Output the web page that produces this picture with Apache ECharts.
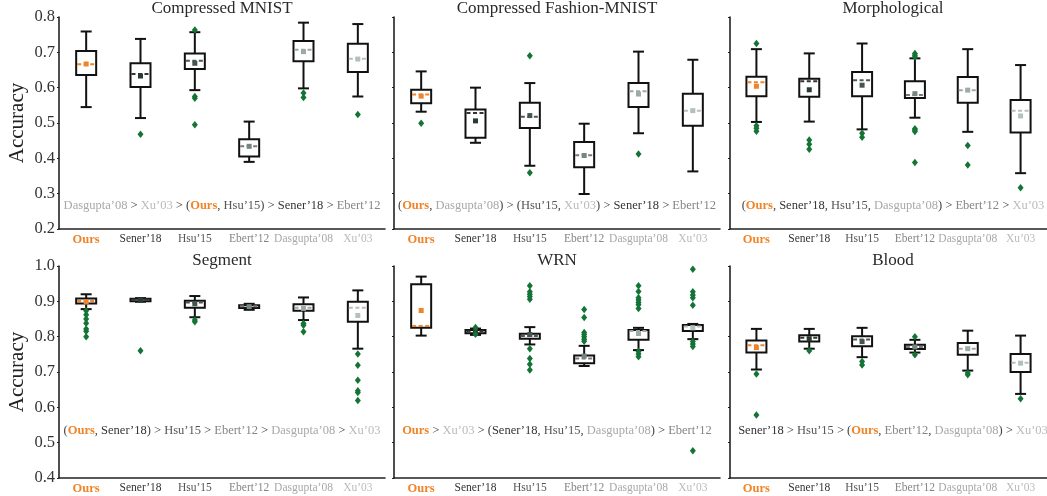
<!DOCTYPE html>
<html>
<head>
<meta charset="utf-8">
<script src="https://cdn.jsdelivr.net/npm/echarts@6/dist/echarts.min.js"></script>
<style>
  html, body { margin: 0; padding: 0; background: #fff; }
  #chart { width: 1047px; height: 496px; }
</style>
</head>
<body>
<div id="chart"></div>
<script>
// Methods compared in every panel (x categories)
const methods = ['Ours', 'Sener’18', 'Hsu’15', 'Ebert’12', 'Dasgupta’08', 'Xu’03'];

// Panel titles
const panelTitles = ['Compressed MNIST', 'Compressed Fashion-MNIST', 'Morphological', 'Segment', 'WRN', 'Blood'];

// y tick ranges per row
const rowTicks = [[0.2, 0.8], [0.4, 1.0]];

// Box statistics per method: [lower whisker, Q1, median, Q3, upper whisker]
const mnistBoxes = [
  [0.545, 0.636, 0.666, 0.704, 0.759],
  [0.514, 0.602, 0.639, 0.669, 0.738],
  [0.593, 0.653, 0.676, 0.697, 0.757],
  [0.390, 0.405, 0.434, 0.454, 0.504],
  [0.598, 0.675, 0.707, 0.732, 0.784],
  [0.575, 0.644, 0.682, 0.724, 0.780]
];
const mnistMeans = [0.667, 0.633, 0.669, 0.434, 0.702, 0.681];
const mnistOutliers = [[], [0.468], [0.763, 0.575, 0.570, 0.495], [], [0.585, 0.572], [0.524]];

const fashionBoxes = [
  [0.532, 0.556, 0.581, 0.594, 0.646],
  [0.444, 0.458, 0.528, 0.538, 0.600],
  [0.379, 0.486, 0.518, 0.557, 0.613],
  [0.299, 0.375, 0.409, 0.446, 0.498],
  [0.471, 0.545, 0.590, 0.613, 0.702],
  [0.363, 0.492, 0.535, 0.583, 0.679]
];
const fashionMeans = [0.576, 0.506, 0.521, 0.408, 0.582, 0.535];
const fashionOutliers = [[0.499], [], [0.690, 0.359], [], [0.412], []];

const morphBoxes = [
  [0.503, 0.576, 0.615, 0.631, 0.709],
  [0.504, 0.574, 0.618, 0.625, 0.697],
  [0.482, 0.576, 0.621, 0.644, 0.725],
  [0.515, 0.571, 0.579, 0.618, 0.683],
  [0.475, 0.557, 0.593, 0.630, 0.709],
  [0.358, 0.473, 0.535, 0.565, 0.664]
];
const morphMeans = [0.604, 0.594, 0.607, 0.583, 0.593, 0.520];
const morphOutliers = [
  [0.725, 0.492, 0.485, 0.477],
  [0.452, 0.440, 0.426],
  [0.471, 0.460],
  [0.697, 0.692, 0.687, 0.484, 0.480, 0.476, 0.388],
  [0.436, 0.381],
  [0.317]
];

const segmentBoxes = [
  [0.878, 0.894, 0.901, 0.908, 0.920],
  [0.899, 0.900, 0.905, 0.907, 0.909],
  [0.855, 0.882, 0.897, 0.902, 0.915],
  [0.876, 0.881, 0.886, 0.889, 0.893],
  [0.847, 0.873, 0.882, 0.892, 0.911],
  [0.766, 0.842, 0.882, 0.899, 0.931]
];
const segmentMeans = [0.898, 0.903, 0.893, 0.885, 0.880, 0.860];
const segmentOutliers = [
  [0.873, 0.862, 0.850, 0.838, 0.822, 0.815, 0.800],
  [0.760],
  [0.847, 0.842],
  [],
  [0.837, 0.832, 0.814],
  [0.751, 0.719, 0.677, 0.647, 0.642, 0.619]
];

const wrnBoxes = [
  [0.803, 0.825, 0.830, 0.948, 0.970],
  [0.805, 0.810, 0.815, 0.819, 0.823],
  [0.778, 0.794, 0.802, 0.808, 0.827],
  [0.717, 0.725, 0.738, 0.747, 0.774],
  [0.762, 0.791, 0.816, 0.819, 0.825],
  [0.793, 0.816, 0.829, 0.833, 0.836]
];
const wrnMeans = [0.874, 0.816, 0.806, 0.745, 0.809, 0.825];
const wrnOutliers = [
  [],
  [0.826, 0.807],
  [0.944, 0.927, 0.920, 0.914, 0.906, 0.766, 0.738, 0.722, 0.706],
  [0.877, 0.854, 0.812, 0.806, 0.800, 0.793, 0.787],
  [0.944, 0.928, 0.910, 0.904, 0.897, 0.890, 0.880, 0.758, 0.751, 0.743],
  [0.991, 0.927, 0.918, 0.910, 0.889, 0.786, 0.779, 0.772, 0.477]
];

const bloodBoxes = [
  [0.707, 0.755, 0.776, 0.789, 0.822],
  [0.766, 0.786, 0.797, 0.804, 0.822],
  [0.742, 0.773, 0.792, 0.801, 0.825],
  [0.755, 0.765, 0.771, 0.777, 0.791],
  [0.704, 0.749, 0.766, 0.782, 0.817],
  [0.638, 0.700, 0.726, 0.751, 0.803]
];
const bloodMeans = [0.769, 0.794, 0.786, 0.771, 0.766, 0.725];
const bloodOutliers = [[0.694, 0.578], [0.760], [0.730, 0.720], [0.800, 0.749], [0.697, 0.692], [0.624]];

// Significance ranking per panel: groups of method indices, best first
const rankings = [
  [[4], [5], [0, 2], [1], [3]],
  [[0, 4], [2, 5], [1], [3]],
  [[0, 1, 2, 4], [3], [5]],
  [[0, 1], [2], [3], [4], [5]],
  [[0], [5], [1, 2, 4], [3]],
  [[1], [2], [0, 3, 4], [5]]
];

const panels = [
  { boxes: mnistBoxes, means: mnistMeans, outliers: mnistOutliers },
  { boxes: fashionBoxes, means: fashionMeans, outliers: fashionOutliers },
  { boxes: morphBoxes, means: morphMeans, outliers: morphOutliers },
  { boxes: segmentBoxes, means: segmentMeans, outliers: segmentOutliers },
  { boxes: wrnBoxes, means: wrnMeans, outliers: wrnOutliers },
  { boxes: bloodBoxes, means: bloodMeans, outliers: bloodOutliers }
];

// ---- styling ----
const FONT = 'Liberation Serif';
const ORANGE = '#ef8428';
const GREEN = '#137436';
const labelColors = [ORANGE, '#333333', '#555555', '#858585', '#a8a8a8', '#bababa'];
const medianColors = [ORANGE, '#333333', '#545454', '#7a7a7a', '#a4a4a4', '#bcbcbc'];
const meanColors = [ORANGE, '#2c3b31', '#44564b', '#75867b', '#9caca2', '#b3c2b8'];

const colLeft = [59, 394, 730];
const gridW = 326;
const rowTop = [17, 266];
const gridH = 212;

const richLabels = {};
methods.forEach((m, i) => {
  richLabels['m' + i] = {
    color: labelColors[i],
    fontFamily: FONT, fontSize: i === 0 ? 12.5 : 11.5,
    fontWeight: i === 0 ? 'bold' : 'normal'
  };
});

function renderBox(params, api) {
  const i = api.value(0);
  const p = k => api.coord([i, api.value(k)]);
  const x = p(1)[0];
  const yLow = p(1)[1], yQ1 = p(2)[1], yMed = p(3)[1], yQ3 = p(4)[1], yHigh = p(5)[1], yMean = p(6)[1];
  const hw = 10, cw = 5.5, ms = 5;
  const stroke = { stroke: '#111', lineWidth: 2 };
  return {
    type: 'group',
    children: [
      { type: 'line', shape: { x1: x, y1: yHigh, x2: x, y2: yQ3 }, style: stroke },
      { type: 'line', shape: { x1: x, y1: yQ1, x2: x, y2: yLow }, style: stroke },
      { type: 'line', shape: { x1: x - cw, y1: yHigh, x2: x + cw, y2: yHigh }, style: stroke },
      { type: 'line', shape: { x1: x - cw, y1: yLow, x2: x + cw, y2: yLow }, style: stroke },
      { type: 'rect', shape: { x: x - hw, y: yQ3, width: hw * 2, height: yQ1 - yQ3 },
        style: { fill: '#fff', stroke: '#111', lineWidth: 2 } },
      { type: 'line', shape: { x1: x - hw + 1, y1: yMed, x2: x + hw - 1, y2: yMed },
        style: { stroke: medianColors[i], lineWidth: 2, lineDash: [4, 2.5] } },
      { type: 'rect', shape: { x: x - ms / 2, y: yMean - ms / 2, width: ms, height: ms },
        style: { fill: meanColors[i] } }
    ]
  };
}

function rankText(groups) {
  const name = i => `{m${i}|${methods[i]}}`;
  return groups.map(g => g.length === 1 ? name(g[0])
    : `{op|(}${g.map(name).join('{op|, }')}{op|)}`).join('{op| > }');
}

const grid = [], xAxis = [], yAxis = [], series = [], graphic = [];

panels.forEach((pd, k) => {
  const row = Math.floor(k / 3), col = k % 3;
  const [ymin, ymax] = rowTicks[row];
  grid.push({ left: colLeft[col], top: rowTop[row], width: gridW, height: gridH });
  xAxis.push({
    type: 'category', gridIndex: k, data: methods,
    axisLine: { lineStyle: { color: '#222', width: 1.6 } },
    axisTick: { alignWithLabel: true, length: 3, lineStyle: { color: '#222', width: 1.2 } },
    axisLabel: {
      margin: 4, interval: 0,
      formatter: (v, i) => `{m${i}|${v}}`,
      rich: richLabels
    },
    splitLine: { show: false }
  });
  yAxis.push({
    type: 'value', gridIndex: k, min: ymin, max: ymax, interval: 0.1,
    name: col === 0 ? 'Accuracy' : '',
    nameLocation: 'middle', nameGap: 31,
    nameTextStyle: { fontFamily: FONT, fontSize: 21, color: '#222' },
    axisLine: { show: true, lineStyle: { color: '#222', width: 1.6 } },
    axisTick: { show: true, length: 2, lineStyle: { color: '#222', width: 1.2 } },
    axisLabel: {
      show: col === 0, margin: 4,
      fontFamily: FONT, fontSize: 16.5, color: '#333',
      formatter: v => v.toFixed(1)
    },
    splitLine: { show: false }
  });

  series.push({
    type: 'custom', xAxisIndex: k, yAxisIndex: k, z: 2,
    renderItem: renderBox,
    encode: { x: 0, y: [1, 2, 3, 4, 5, 6] },
    data: pd.boxes.map((b, i) => [i, ...b, pd.means[i]])
  });
  const pts = [];
  pd.outliers.forEach((list, i) => list.forEach(v => pts.push([i, v])));
  series.push({
    type: 'scatter', xAxisIndex: k, yAxisIndex: k, z: 3,
    symbol: 'diamond', symbolSize: [6, 7.5],
    itemStyle: { color: GREEN, opacity: 1 },
    data: pts
  });

  const cx = colLeft[col] + gridW / 2;
  graphic.push({
    type: 'text', x: cx, y: row === 0 ? 8.5 : 260.5, z: 10,
    style: { text: panelTitles[k], font: `17px "${FONT}"`, fill: '#2a2a2a',
             align: 'center', verticalAlign: 'middle' }
  });
  const rich = Object.assign({}, ...methods.map((m, i) => ({
    ['m' + i]: { fill: labelColors[i], fontFamily: FONT, fontSize: 12.5,
                 fontWeight: i === 0 ? 'bold' : 'normal' }
  })));
  rich.op = { fill: '#444', fontFamily: FONT, fontSize: 12.5 };
  graphic.push({
    type: 'text', x: cx, y: row === 0 ? 205.5 : 431, z: 10,
    style: { text: rankText(rankings[k]), rich, align: 'center', verticalAlign: 'middle',
             font: `12.5px "${FONT}"` }
  });
});

const chart = echarts.init(document.getElementById('chart'), null, { renderer: 'canvas' });
chart.setOption({
  animation: false,
  backgroundColor: '#fff',
  textStyle: { fontFamily: FONT },
  grid, xAxis, yAxis, series, graphic
});
</script>
</body>
</html>
